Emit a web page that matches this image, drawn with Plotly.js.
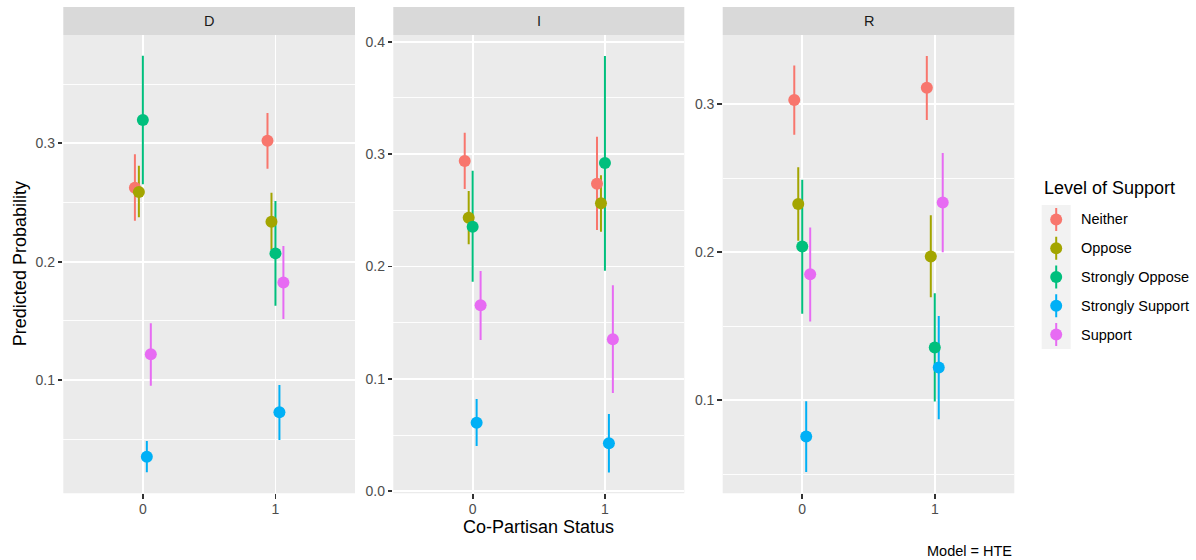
<!DOCTYPE html>
<html>
<head>
<meta charset="utf-8">
<script src="https://cdn.plot.ly/plotly-3.0.1.min.js"></script>
<style>
  html, body { margin: 0; padding: 0; background: #ffffff; }
  #chart { width: 1196px; height: 560px; }
</style>
</head>
<body>
<div id="chart"></div>
<script>
// Facets (party) and support levels
const panels = ['D', 'I', 'R'];
const levels = ['Neither', 'Oppose', 'Strongly Oppose', 'Strongly Support', 'Support'];
const levelColors = ['#F8766D', '#A3A500', '#00BF7D', '#00B0F6', '#E76BF3'];
const statusValues = [0, 1];
const statusLabels = ['0', '1'];

// Predicted probabilities per level, [status 0, status 1]
const estD  = [[0.2625, 0.3022], [0.2589, 0.2337], [0.3197, 0.2070], [0.0352, 0.0727], [0.1217, 0.1824]];
const lowD  = [[0.2346, 0.2785], [0.2375, 0.2100], [0.2653, 0.1628], [0.0220, 0.0493], [0.0952, 0.1516]];
const highD = [[0.2907, 0.3256], [0.2811, 0.2583], [0.3740, 0.2512], [0.0484, 0.0958], [0.1479, 0.2132]];

const estI  = [[0.2939, 0.2737], [0.2434, 0.2562], [0.2354, 0.2921], [0.0610, 0.0427], [0.1655, 0.1352]];
const lowI  = [[0.2690, 0.2325], [0.2197, 0.2310], [0.1865, 0.1963], [0.0403, 0.0166], [0.1346, 0.0874]];
const highI = [[0.3190, 0.3155], [0.2672, 0.2811], [0.2852, 0.3873], [0.0821, 0.0688], [0.1960, 0.1833]];

const estR  = [[0.3029, 0.3112], [0.2326, 0.1971], [0.2039, 0.1355], [0.0754, 0.1220], [0.1851, 0.2335]];
const lowR  = [[0.2793, 0.2894], [0.2078, 0.1696], [0.1583, 0.0990], [0.0514, 0.0870], [0.1531, 0.2000]];
const highR = [[0.3261, 0.3326], [0.2574, 0.2250], [0.2489, 0.1723], [0.0993, 0.1569], [0.2166, 0.2671]];

const panelData = [
  { est: estD, low: lowD, high: highD },
  { est: estI, low: lowI, high: highI },
  { est: estR, low: lowR, high: highR }
];

// ---- geometry (pixels) ----
const W = 1196, H = 560;
const px = v => v / W;
const py = v => 1 - v / H;
const panelLeft  = [63.3, 393.3, 722.7];
const panelRight = [355.0, 684.3, 1014.3];
const plotTop = 35, plotBottom = 493.3, stripTop = 7;
const yRanges = [[0.0043, 0.3915], [-0.0018, 0.4060], [0.0370, 0.3468]];
const dodgeWidth = 0.15;

const FONT = '"Liberation Sans", Arial, Helvetica, sans-serif';

const traces = [];
const pointTraces = [];
panels.forEach((p, pi) => {
  const d = panelData[pi];
  const ax = pi === 0 ? '' : String(pi + 1);
  levels.forEach((lev, li) => {
    const off = (li - (levels.length - 1) / 2) * dodgeWidth / levels.length;
    const xs = statusValues.map(v => v + off);
    const est = d.est[li];
    traces.push({
      type: 'scatter', mode: 'markers', x: xs, y: est,
      xaxis: 'x' + ax, yaxis: 'y' + ax,
      marker: { size: 12, opacity: 0, color: levelColors[li] },
      error_y: {
        type: 'data', symmetric: false,
        array: est.map((e, k) => d.high[li][k] - e),
        arrayminus: est.map((e, k) => e - d.low[li][k]),
        width: 0, thickness: 2, color: levelColors[li]
      },
      showlegend: false, hoverinfo: 'skip'
    });
    pointTraces.push({
      type: 'scatter', mode: 'markers', x: xs, y: est,
      xaxis: 'x' + ax, yaxis: 'y' + ax, name: lev,
      marker: { size: 12, color: levelColors[li], line: { width: 0 } },
      showlegend: false
    });
  });
});

// legend keys drawn on their own small axes
const keyTop = 205, keyBottom = 349, keyLeft = 1041.7, keyRight = 1070.7;
const keyErr = [];
const keyPts = [];
levels.forEach((lev, li) => {
  keyErr.push({
    type: 'scatter', mode: 'markers', x: [0], y: [li], xaxis: 'x4', yaxis: 'y4',
    marker: { size: 12, opacity: 0, color: levelColors[li] },
    error_y: { type: 'constant', value: 0.4, width: 0, thickness: 2, color: levelColors[li] },
    showlegend: false, hoverinfo: 'skip'
  });
  keyPts.push({
    type: 'scatter', mode: 'markers', x: [0], y: [li], xaxis: 'x4', yaxis: 'y4',
    marker: { size: 12, color: levelColors[li] },
    showlegend: false, hoverinfo: 'skip'
  });
});

const layout = {
  width: W, height: H,
  margin: { l: 0, r: 0, t: 0, b: 0 },
  paper_bgcolor: '#ffffff',
  plot_bgcolor: 'rgba(0,0,0,0)',
  font: { family: FONT, size: 14.5, color: '#000000' },
  showlegend: false,
  shapes: [],
  annotations: []
};

panels.forEach((p, pi) => {
  const ax = pi === 0 ? '' : String(pi + 1);
  layout['xaxis' + ax] = {
    domain: [px(panelLeft[pi]), px(panelRight[pi])],
    range: [-0.6, 1.6],
    tickvals: statusValues, ticktext: statusLabels,
    showgrid: true, gridcolor: '#ffffff', gridwidth: 1.8,
    zeroline: false, showline: false,
    ticks: 'outside', ticklen: 4.5, tickwidth: 1.8, tickcolor: '#333333',
    ticklabelstandoff: -2,
    tickfont: { family: FONT, size: 14, color: '#4d4d4d' },
    anchor: 'y' + ax, fixedrange: true
  };
  layout['yaxis' + ax] = {
    domain: [py(plotBottom), py(plotTop)],
    range: yRanges[pi],
    dtick: 0.1, tick0: 0, tickformat: '.1f',
    showgrid: true, gridcolor: '#ffffff', gridwidth: 1.8,
    minor: { dtick: 0.05, tick0: 0, showgrid: true, gridcolor: '#ffffff', gridwidth: 0.9, ticks: '' },
    zeroline: false, showline: false,
    ticks: 'outside', ticklen: 4.5, tickwidth: 1.8, tickcolor: '#333333',
    tickfont: { family: FONT, size: 14, color: '#4d4d4d' },
    anchor: 'x' + ax, fixedrange: true
  };
  // panel background
  layout.shapes.push({
    type: 'rect', xref: 'paper', yref: 'paper', layer: 'below',
    x0: px(panelLeft[pi]), x1: px(panelRight[pi]), y0: py(plotBottom), y1: py(plotTop),
    fillcolor: '#ebebeb', line: { width: 0 }
  });
  // facet strip
  layout.shapes.push({
    type: 'rect', xref: 'paper', yref: 'paper', layer: 'below',
    x0: px(panelLeft[pi]), x1: px(panelRight[pi]), y0: py(plotTop), y1: py(stripTop),
    fillcolor: '#d9d9d9', line: { width: 0 }
  });
  layout.annotations.push({
    text: p, xref: 'paper', yref: 'paper', showarrow: false,
    x: px((panelLeft[pi] + panelRight[pi]) / 2), y: py((plotTop + stripTop) / 2),
    xanchor: 'center', yanchor: 'middle',
    font: { family: FONT, size: 14.5, color: '#1a1a1a' }
  });
});

layout.xaxis4 = {
  domain: [px(keyLeft), px(keyRight)], range: [-1, 1],
  visible: false, fixedrange: true, anchor: 'y4'
};
layout.yaxis4 = {
  domain: [py(keyBottom), py(keyTop)], range: [levels.length - 0.5, -0.5],
  visible: false, fixedrange: true, anchor: 'x4'
};
layout.shapes.push({
  type: 'rect', xref: 'paper', yref: 'paper', layer: 'below',
  x0: px(keyLeft), x1: px(keyRight), y0: py(keyBottom), y1: py(keyTop),
  fillcolor: '#f2f2f2', line: { width: 0 }
});

// legend title and labels
layout.annotations.push({
  text: 'Level of Support', xref: 'paper', yref: 'paper', showarrow: false,
  x: px(1042), y: py(188), xanchor: 'left', yanchor: 'middle',
  font: { family: FONT, size: 18, color: '#000000' }
});
const rowH = (keyBottom - keyTop) / levels.length;
levels.forEach((lev, li) => {
  layout.annotations.push({
    text: lev, xref: 'paper', yref: 'paper', showarrow: false,
    x: px(1079), y: py(keyTop + rowH * (li + 0.5)), xanchor: 'left', yanchor: 'middle',
    font: { family: FONT, size: 14.5, color: '#000000' }
  });
});

// axis titles and caption
layout.annotations.push({
  text: 'Predicted Probability', xref: 'paper', yref: 'paper', showarrow: false,
  x: px(20), y: py((plotTop + plotBottom) / 2), xanchor: 'center', yanchor: 'middle',
  textangle: -90, font: { family: FONT, size: 18, color: '#000000' }
});
layout.annotations.push({
  text: 'Co-Partisan Status', xref: 'paper', yref: 'paper', showarrow: false,
  x: px((panelLeft[1] + panelRight[1]) / 2), y: py(527), xanchor: 'center', yanchor: 'middle',
  font: { family: FONT, size: 18, color: '#000000' }
});
layout.annotations.push({
  text: 'Model = HTE', xref: 'paper', yref: 'paper', showarrow: false,
  x: px(1014.3), y: py(551), xanchor: 'right', yanchor: 'middle',
  font: { family: FONT, size: 14.5, color: '#000000' }
});

Plotly.newPlot('chart', traces.concat(pointTraces, keyErr, keyPts), layout,
  { staticPlot: true, displayModeBar: false });
</script>
</body>
</html>
